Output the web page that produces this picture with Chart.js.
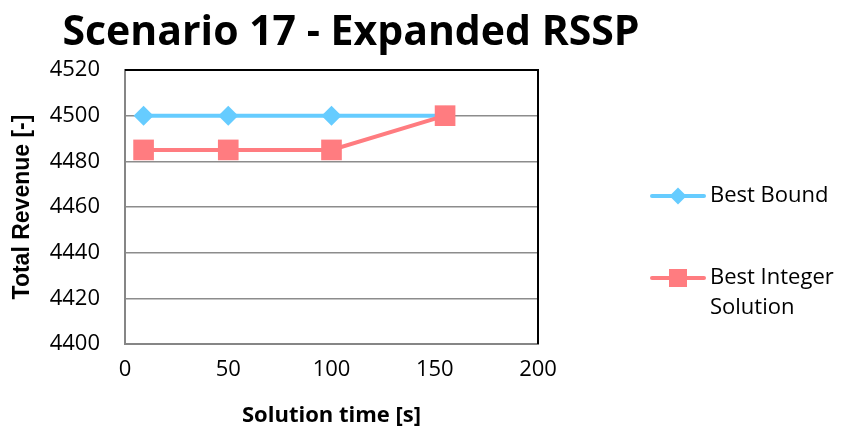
<!DOCTYPE html>
<html>
<head>
<meta charset="utf-8">
<script src="https://cdn.jsdelivr.net/npm/chart.js@4/dist/chart.umd.min.js"></script>
<style>
  html, body { margin: 0; padding: 0; background: #ffffff; }
  #wrap { width: 842px; height: 430px; }
</style>
</head>
<body>
<div id="wrap"><canvas id="chart" width="842" height="430"></canvas></div>
<script>
// Solver progress for scenario 17
const chartTitle = 'Scenario 17 - Expanded RSSP';
const timeSeconds = [9, 50, 100, 155];
const bestBound = [4500, 4500, 4500, 4500];
const bestInteger = [4485, 4485, 4485, 4500];
const seriesNames = ['Best Bound', ['Best Integer', 'Solution']];
const yTicks = [4400, 4420, 4440, 4460, 4480, 4500, 4520];
const xTicks = [0, 50, 100, 150, 200];

const BLUE = '#66CCFF';
const RED = '#FF7C80';
const TEXT_FONT = '"Open Sans", "Liberation Sans", sans-serif';

const toPoints = (xs, ys) => xs.map((x, i) => ({ x: x, y: ys[i] }));

// Title, plot frame and legend drawn on the canvas around the chart area
const decorations = {
  id: 'decorations',
  beforeDatasetsDraw(chart) {
    const { ctx, chartArea: a } = chart;
    ctx.save();
    ctx.strokeStyle = '#000000';
    ctx.lineWidth = 2;
    ctx.beginPath();
    ctx.moveTo(a.left, a.top);
    ctx.lineTo(a.right, a.top);
    ctx.lineTo(a.right, a.bottom);
    ctx.stroke();
    ctx.restore();
  },
  afterDraw(chart) {
    const { ctx } = chart;
    ctx.save();
    ctx.fillStyle = '#000000';
    ctx.font = 'bold 41px ' + TEXT_FONT;
    ctx.textAlign = 'center';
    ctx.textBaseline = 'alphabetic';
    ctx.fillText(chartTitle, 351, 45);

    const rows = [196, 278];
    chart.data.datasets.forEach((ds, i) => {
      const y = rows[i];
      ctx.strokeStyle = ds.borderColor;
      ctx.lineWidth = 4;
      ctx.lineCap = 'round';
      ctx.beginPath();
      ctx.moveTo(652, y);
      ctx.lineTo(704, y);
      ctx.stroke();
      ctx.fillStyle = ds.pointBackgroundColor;
      if (ds.pointStyle === 'rectRot') {
        ctx.beginPath();
        ctx.moveTo(678 - 8.5, y);
        ctx.lineTo(678, y - 8.5);
        ctx.lineTo(678 + 8.5, y);
        ctx.lineTo(678, y + 8.5);
        ctx.closePath();
        ctx.fill();
      } else {
        ctx.fillRect(678 - 9, y - 9, 18, 18);
      }
      ctx.fillStyle = '#000000';
      ctx.font = '22px ' + TEXT_FONT;
      ctx.textAlign = 'left';
      ctx.textBaseline = 'middle';
      const lines = [].concat(seriesNames[i]);
      lines.forEach((t, k) => ctx.fillText(t, 710, y + k * 30));
    });
    ctx.restore();
  }
};

new Chart(document.getElementById('chart'), {
  type: 'line',
  data: {
    datasets: [
      {
        label: 'Best Bound',
        data: toPoints(timeSeconds, bestBound),
        borderColor: BLUE,
        backgroundColor: BLUE,
        pointBackgroundColor: BLUE,
        pointStyle: 'rectRot',
        pointRadius: 10,
        pointBorderWidth: 0,
        borderWidth: 4,
        order: 1
      },
      {
        label: 'Best Integer Solution',
        data: toPoints(timeSeconds, bestInteger),
        borderColor: RED,
        backgroundColor: RED,
        pointBackgroundColor: RED,
        pointStyle: 'rect',
        pointRadius: 14.6,
        pointBorderWidth: 0,
        borderWidth: 4,
        order: 0
      }
    ]
  },
  plugins: [decorations],
  options: {
    responsive: false,
    animation: false,
    events: [],
    layout: { padding: { top: 70, right: 304, left: 0, bottom: 0 } },
    plugins: {
      legend: { display: false },
      title: { display: false },
      tooltip: { enabled: false }
    },
    scales: {
      x: {
        type: 'linear',
        min: 0,
        max: 200,
        afterFit(scale) { scale.height = 86; },
        afterBuildTicks(scale) { scale.ticks = xTicks.map(v => ({ value: v })); },
        grid: { display: false, drawTicks: false },
        border: { display: true, color: '#868686', width: 2 },
        ticks: {
          color: '#000000',
          padding: 13,
          maxRotation: 0,
          callback: v => String(v),
          font: { family: TEXT_FONT, size: 22 }
        },
        title: {
          display: true,
          text: 'Solution time [s]',
          color: '#000000',
          padding: { top: 0, bottom: 1 },
          font: { family: TEXT_FONT, size: 22, weight: 'bold' }
        }
      },
      y: {
        type: 'linear',
        min: 4400,
        max: 4520,
        afterFit(scale) { scale.width = 125; },
        afterBuildTicks(scale) { scale.ticks = yTicks.map(v => ({ value: v })); },
        grid: { color: '#8C8C8C', lineWidth: 1.5, drawTicks: false },
        border: { display: true, color: '#868686', width: 2 },
        ticks: {
          color: '#000000',
          padding: 25,
          callback: v => String(v),
          font: { family: TEXT_FONT, size: 22 }
        },
        title: {
          display: true,
          text: 'Total Revenue [-]',
          color: '#000000',
          padding: { top: 9, bottom: 0 },
          font: { family: '"Liberation Sans", Arial, sans-serif', size: 23, weight: 'bold' }
        }
      }
    }
  }
});
</script>
</body>
</html>
